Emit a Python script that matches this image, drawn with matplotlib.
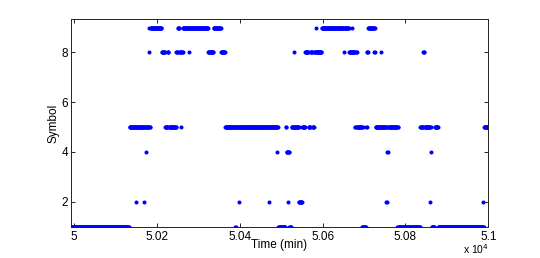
import numpy as np
import matplotlib
matplotlib.use("Agg")
import matplotlib.pyplot as plt

# Symbol sequence: time (min) at which each new symbol run begins, and the symbol
change_time = [49992, 50134, 50150, 50151, 50170, 50171, 50174, 50175, 50181, 50182,
               50183, 50185, 50212, 50220, 50226, 50229, 50247, 50251, 50255, 50258,
               50259, 50263, 50278, 50279, 50324, 50337, 50355, 50365, 50389, 50391,
               50398, 50399, 50471, 50472, 50490, 50491, 50493, 50511, 50513, 50516,
               50517, 50520, 50525, 50531, 50532, 50543, 50551, 50558, 50566, 50571,
               50576, 50580, 50584, 50585, 50598, 50652, 50653, 50664, 50672, 50673,
               50678, 50680, 50683, 50694, 50696, 50698, 50705, 50707, 50710, 50725,
               50727, 50728, 50740, 50741, 50754, 50756, 50758, 50780, 50782, 50784,
               50836, 50843, 50846, 50859, 50860, 50861, 50862, 50863, 50871, 50879,
               50988, 50989, 50990]
run_symbol = [1, 5, 2, 5, 2, 5, 4, 5, 8, 9,
              5, 9, 8, 5, 8, 5, 8, 9, 8, 5,
              8, 9, 8, 9, 8, 9, 8, 5, 1, 5,
              2, 5, 2, 5, 4, 5, 1, 5, 4, 2,
              4, 1, 5, 8, 5, 2, 5, 8, 5, 8,
              5, 8, 9, 8, 9, 8, 9, 8, 9, 8,
              5, 8, 5, 1, 5, 1, 5, 8, 9, 8,
              9, 5, 8, 5, 2, 4, 5, 1, 5, 1,
              5, 8, 5, 2, 5, 4, 5, 1, 5, 1,
              2, 1, 5]
t_start, t_end = 49992, 51000          # sampled once per minute

x_ticks = [50000, 50200, 50400, 50600, 50800, 51000]
x_tick_labels = ["5", "5.02", "5.04", "5.06", "5.08", "5.1"]
y_ticks = [2, 4, 6, 8]
y_tick_labels = ["2", "4", "6", "8"]

times = np.arange(t_start, t_end + 1)
idx = np.searchsorted(change_time, times, side="right") - 1
symbols = np.asarray(run_symbol)[idx]

plt.rcParams['font.family'] = ['Liberation Sans', 'DejaVu Sans']

fig = plt.figure(figsize=(5.4, 2.58), dpi=100)
ax = fig.add_axes([70.7 / 540, 1 - 226.5 / 258, (488.3 - 70.7) / 540, (226.5 - 19.3) / 258])

ax.plot(times, symbols, linestyle='none', marker='o', markersize=2.9,
        markeredgewidth=0, color=(0, 0, 1))

ax.set_xlim(49992, 51000)
ax.set_ylim(1, 9.33)
ax.set_xticks(x_ticks)
ax.set_xticklabels(x_tick_labels)
ax.set_yticks(y_ticks)
ax.set_yticklabels(y_tick_labels)
ax.tick_params(direction='in', length=3, width=0.6, top=True, right=True,
               labelsize=8.5, colors='black')
ax.tick_params(axis='x', pad=3)
ax.tick_params(axis='y', pad=2)
for s in ax.spines.values():
    s.set_linewidth(0.7)
    s.set_color('#222222')

ax.set_xlabel('Time (min)', fontsize=8.5, va='center')
ax.xaxis.set_label_coords(0.5, -0.090)
ax.set_ylabel('Symbol', fontsize=8.5, va='center')
ax.yaxis.set_label_coords(-0.042, 0.5)

fig.text(489 / 540, 1 - 249.5 / 258, 'x 10$^{4}$', ha='right', va='center', fontsize=7.5)

fig.savefig('out.png', dpi=100)
